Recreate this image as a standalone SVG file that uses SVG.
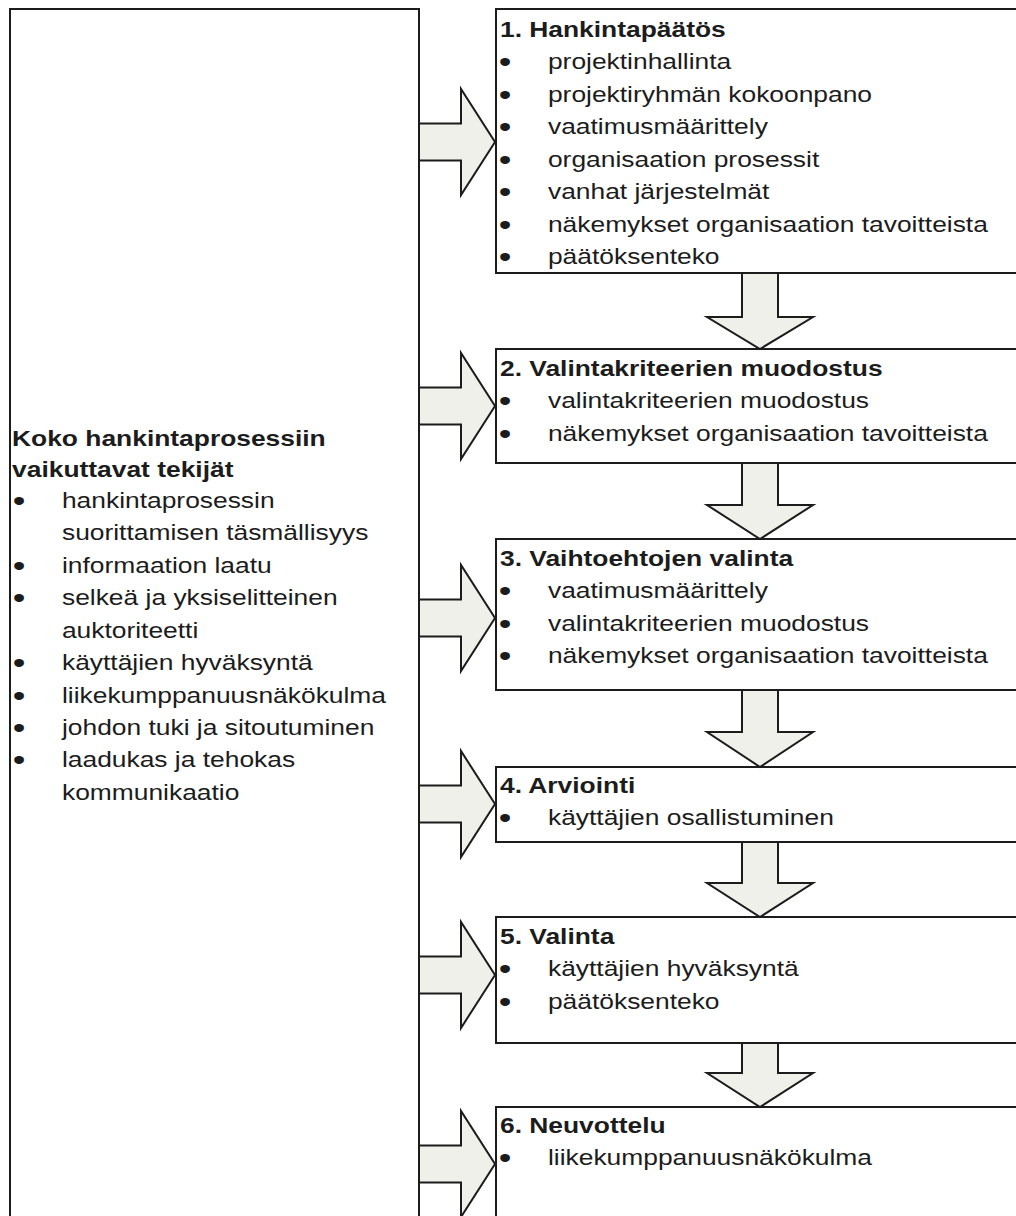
<svg xmlns="http://www.w3.org/2000/svg" width="1016" height="1216" viewBox="0 0 1016 1216">
  <style>
    .box { fill: #ffffff; stroke: #1c1c1c; stroke-width: 2; }
    .arrow { fill: #f0f0ea; stroke: #1c1c1c; stroke-width: 2; stroke-linejoin: miter; }
    text { font-family: "Liberation Sans", Arial, sans-serif; font-size: 22px; fill: #1c1c1c; }
    .h { font-weight: bold; }
    .b { font-size: 30px; }
  </style>
  <rect x="0" y="0" width="1016" height="1216" fill="#ffffff"/>

  <!-- Left panel: factors affecting the whole process -->
  <g id="factors">
    <rect class="box" x="10" y="9" width="409" height="1230"/>
    <g transform="translate(10 0) scale(1.2 1)">
      <text class="h" x="1.7" y="446">Koko hankintaprosessiin</text>
      <text class="h" x="1.7" y="477">vaikuttavat tekijät</text>
      <text class="b" x="2.2" y="510.6">•</text><text x="43.3" y="508">hankintaprosessin</text>
      <text x="43.3" y="540.5">suorittamisen täsmällisyys</text>
      <text class="b" x="2.2" y="575.6">•</text><text x="43.3" y="573">informaation laatu</text>
      <text class="b" x="2.2" y="607.6">•</text><text x="43.3" y="605">selkeä ja yksiselitteinen</text>
      <text x="43.3" y="638">auktoriteetti</text>
      <text class="b" x="2.2" y="672.6">•</text><text x="43.3" y="670">käyttäjien hyväksyntä</text>
      <text class="b" x="2.2" y="705.6">•</text><text x="43.3" y="703">liikekumppanuusnäkökulma</text>
      <text class="b" x="2.2" y="737.6">•</text><text x="43.3" y="735">johdon tuki ja sitoutuminen</text>
      <text class="b" x="2.2" y="769.6">•</text><text x="43.3" y="767">laadukas ja tehokas</text>
      <text x="43.3" y="800">kommunikaatio</text>
    </g>
  </g>

  <!-- Step 1 -->
  <g id="step1">
    <rect class="box" x="496" y="9" width="600" height="264"/>
    <g transform="translate(496 0) scale(1.2 1)">
      <text class="h" x="3.3" y="37">1. Hankintapäätös</text>
      <text class="b" x="2.3" y="71.6">•</text><text x="43.3" y="69">projektinhallinta</text>
      <text class="b" x="2.3" y="104.6">•</text><text x="43.3" y="102">projektiryhmän kokoonpano</text>
      <text class="b" x="2.3" y="136.6">•</text><text x="43.3" y="134">vaatimusmäärittely</text>
      <text class="b" x="2.3" y="169.6">•</text><text x="43.3" y="167">organisaation prosessit</text>
      <text class="b" x="2.3" y="201.6">•</text><text x="43.3" y="199">vanhat järjestelmät</text>
      <text class="b" x="2.3" y="234.6">•</text><text x="43.3" y="232">näkemykset organisaation tavoitteista</text>
      <text class="b" x="2.3" y="266.6">•</text><text x="43.3" y="264">päätöksenteko</text>
    </g>
  </g>

  <!-- Step 2 -->
  <g id="step2">
    <rect class="box" x="496" y="349" width="600" height="114"/>
    <g transform="translate(496 0) scale(1.2 1)">
      <text class="h" x="3.3" y="376">2. Valintakriteerien muodostus</text>
      <text class="b" x="2.3" y="410.6">•</text><text x="43.3" y="408">valintakriteerien muodostus</text>
      <text class="b" x="2.3" y="443.6">•</text><text x="43.3" y="441">näkemykset organisaation tavoitteista</text>
    </g>
  </g>

  <!-- Step 3 -->
  <g id="step3">
    <rect class="box" x="496" y="539" width="600" height="151"/>
    <g transform="translate(496 0) scale(1.2 1)">
      <text class="h" x="3.3" y="566">3. Vaihtoehtojen valinta</text>
      <text class="b" x="2.3" y="600.6">•</text><text x="43.3" y="598">vaatimusmäärittely</text>
      <text class="b" x="2.3" y="633.6">•</text><text x="43.3" y="631">valintakriteerien muodostus</text>
      <text class="b" x="2.3" y="665.6">•</text><text x="43.3" y="663">näkemykset organisaation tavoitteista</text>
    </g>
  </g>

  <!-- Step 4 -->
  <g id="step4">
    <rect class="box" x="496" y="767" width="600" height="75"/>
    <g transform="translate(496 0) scale(1.2 1)">
      <text class="h" x="3.3" y="793">4. Arviointi</text>
      <text class="b" x="2.3" y="827.6">•</text><text x="43.3" y="825">käyttäjien osallistuminen</text>
    </g>
  </g>

  <!-- Step 5 -->
  <g id="step5">
    <rect class="box" x="496" y="917" width="600" height="126"/>
    <g transform="translate(496 0) scale(1.2 1)">
      <text class="h" x="3.3" y="944">5. Valinta</text>
      <text class="b" x="2.3" y="978.6">•</text><text x="43.3" y="976">käyttäjien hyväksyntä</text>
      <text class="b" x="2.3" y="1011.6">•</text><text x="43.3" y="1009">päätöksenteko</text>
    </g>
  </g>

  <!-- Step 6 -->
  <g id="step6">
    <rect class="box" x="496" y="1107" width="600" height="150"/>
    <g transform="translate(496 0) scale(1.2 1)">
      <text class="h" x="3.3" y="1133">6. Neuvottelu</text>
      <text class="b" x="2.3" y="1167.6">•</text><text x="43.3" y="1165">liikekumppanuusnäkökulma</text>
    </g>
  </g>

  <!-- Block arrows -->
  <g id="connectors">
    <!-- from the factors panel to each step -->
    <path class="arrow" d="M419 123.5 H461 V89 L495 142 L461 195 V160.5 H419 Z"/>
    <path class="arrow" d="M419 387.5 H461 V353 L495 406 L461 459 V424.5 H419 Z"/>
    <path class="arrow" d="M419 599.5 H461 V565 L495 618 L461 671 V636.5 H419 Z"/>
    <path class="arrow" d="M419 785.5 H461 V751 L495 804 L461 857 V822.5 H419 Z"/>
    <path class="arrow" d="M419 956.5 H461 V922 L495 975 L461 1028 V993.5 H419 Z"/>
    <path class="arrow" d="M419 1145.5 H461 V1111 L495 1164 L461 1217 V1182.5 H419 Z"/>
    <!-- step to step -->
    <path class="arrow" d="M742 273 V317 H707 L760 349 L813 317 H778 V273 Z"/>
    <path class="arrow" d="M742 463 V505 H707 L760 539 L813 505 H778 V463 Z"/>
    <path class="arrow" d="M742 690 V732 H707 L760 767 L813 732 H778 V690 Z"/>
    <path class="arrow" d="M742 842 V883 H707 L760 917 L813 883 H778 V842 Z"/>
    <path class="arrow" d="M742 1043 V1073 H707 L760 1107 L813 1073 H778 V1043 Z"/>
  </g>
</svg>
